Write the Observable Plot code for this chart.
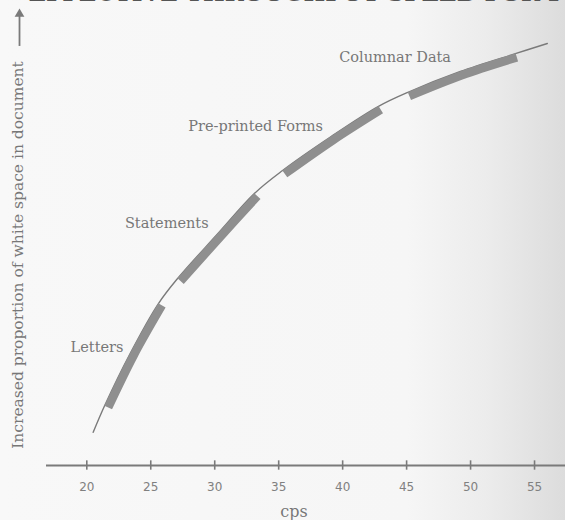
<!DOCTYPE html>
<html><head><meta charset="utf-8">
<script src="https://cdn.jsdelivr.net/npm/d3@7"></script>
<script src="https://cdn.jsdelivr.net/npm/@observablehq/plot@0.6"></script>
<style>
html,body{margin:0;padding:0;}
body{width:565px;height:520px;overflow:hidden;background:linear-gradient(to right,#f8f8f8 0%,#f6f6f6 72%,#ececec 86%,#dcdcdc 100%);}
</style></head><body><div id="chart"></div>
<script>
// Curve: throughput speed (cps) vs. proportion of white space (arbitrary 0–100 scale)
const cps        = [20.5, 21.4, 23.4, 25.6, 27.1, 30.2, 33.1, 35.3, 39.1, 42.8, 45.1, 49.2, 53.5, 56.0];
const whiteSpace = [7.8, 14.1, 26.4, 38.1, 44.0, 54.4, 64.0, 69.4, 77.4, 84.5, 87.8, 92.7, 96.9, 99.3];

// Document-type bands along the curve
const bandNames = ["Letters", "Statements", "Pre-printed Forms", "Columnar Data"];
const bandStart = [21.4, 27.1, 35.3, 45.1];
const bandEnd   = [25.6, 33.1, 42.8, 53.5];
const labelCps  = [20.8, 26.25, 33.2, 44.1];
const labelWs   = [27.8, 56.9, 79.8, 96.0];

const xTicks = [20, 25, 30, 35, 40, 45, 50, 55];
const arrowCps = [14.74];
const arrowWs1 = [98.6];
const arrowWs2 = [106.0];

const titleText = "EFFECTIVE THROUGHPUT SPEED FOR PRINTED MATERIAL";
const yLabel = "Increased proportion of white space in document";
const xLabel = "cps";

// styles
const ink = "#7a7a7a";
const bandInk = "#8f8f8f";
const serif = "DejaVu Serif";
const sans = "DejaVu Sans";
const bandShift = [[3.5, 1.9], [3.0, 2.6], [2.3, 3.3], [1.5, 3.7]];

const curve = cps.map((c, i) => ({cps: c, ws: whiteSpace[i]}));
const labels = bandNames.map((n, i) => ({name: n, cps: labelCps[i], ws: labelWs[i]}));
const arrow = arrowCps.map((c, i) => ({x: c, y1: arrowWs1[i], y2: arrowWs2[i]}));

const bandMarks = bandNames.map((n, i) =>
  Plot.line(curve.filter(d => d.cps >= bandStart[i] - 1e-9 && d.cps <= bandEnd[i] + 1e-9), {
    x: "cps", y: "ws", curve: "catmull-rom",
    stroke: bandInk, strokeWidth: 8.5, strokeLinecap: "butt",
    dx: bandShift[i][0], dy: bandShift[i][1]
  })
);

const chart = Plot.plot({
  width: 565,
  height: 520,
  marginLeft: 46,
  marginRight: 0,
  marginTop: 40,
  marginBottom: 55,
  style: {background: "transparent", fontFamily: sans, fontSize: "12px", color: "#808080"},
  x: {domain: [16.85, 57.42], ticks: xTicks, tickSize: 0, tickPadding: 17, label: null, axis: "bottom", tickFormat: d => String(d)},
  y: {domain: [0, 100], axis: null},
  marks: [
    Plot.ruleY([0], {stroke: ink, strokeWidth: 2}),
    Plot.ruleX(xTicks, {x: d => d, y1: -1.1, y2: 1.1, stroke: ink, strokeWidth: 1.6}),
    Plot.line(curve, {x: "cps", y: "ws", curve: "catmull-rom", stroke: ink, strokeWidth: 1.4}),
    ...bandMarks,
    Plot.text(labels, {x: "cps", y: "ws", text: "name", fill: "#777", fontSize: 14.5, fontFamily: serif}),
    Plot.text([xLabel], {frameAnchor: "bottom", dx: -12, dy: 51, text: d => d, fill: "#777", fontSize: 16, fontFamily: serif}),
    Plot.text([yLabel], {frameAnchor: "left", textAnchor: "middle", dx: -28, dy: 2, rotate: -90, text: d => d, fill: "#777", fontSize: 15.5, fontFamily: serif}),
    Plot.ruleX(arrow, {x: "x", y1: "y1", y2: "y2", stroke: ink, strokeWidth: 1.8}),
    Plot.dot(arrow, {x: "x", y: "y2", symbol: "triangle", r: 3.6, fill: ink, stroke: "none", dy: -1}),
    Plot.text([titleText], {frameAnchor: "top-left", dx: -18, dy: -40, lineAnchor: "bottom", textAnchor: "start", text: d => d, fill: "#555", fontSize: 23, fontWeight: "bold", fontFamily: serif})
  ]
});
document.getElementById("chart").appendChild(chart);
</script>
</body></html>
